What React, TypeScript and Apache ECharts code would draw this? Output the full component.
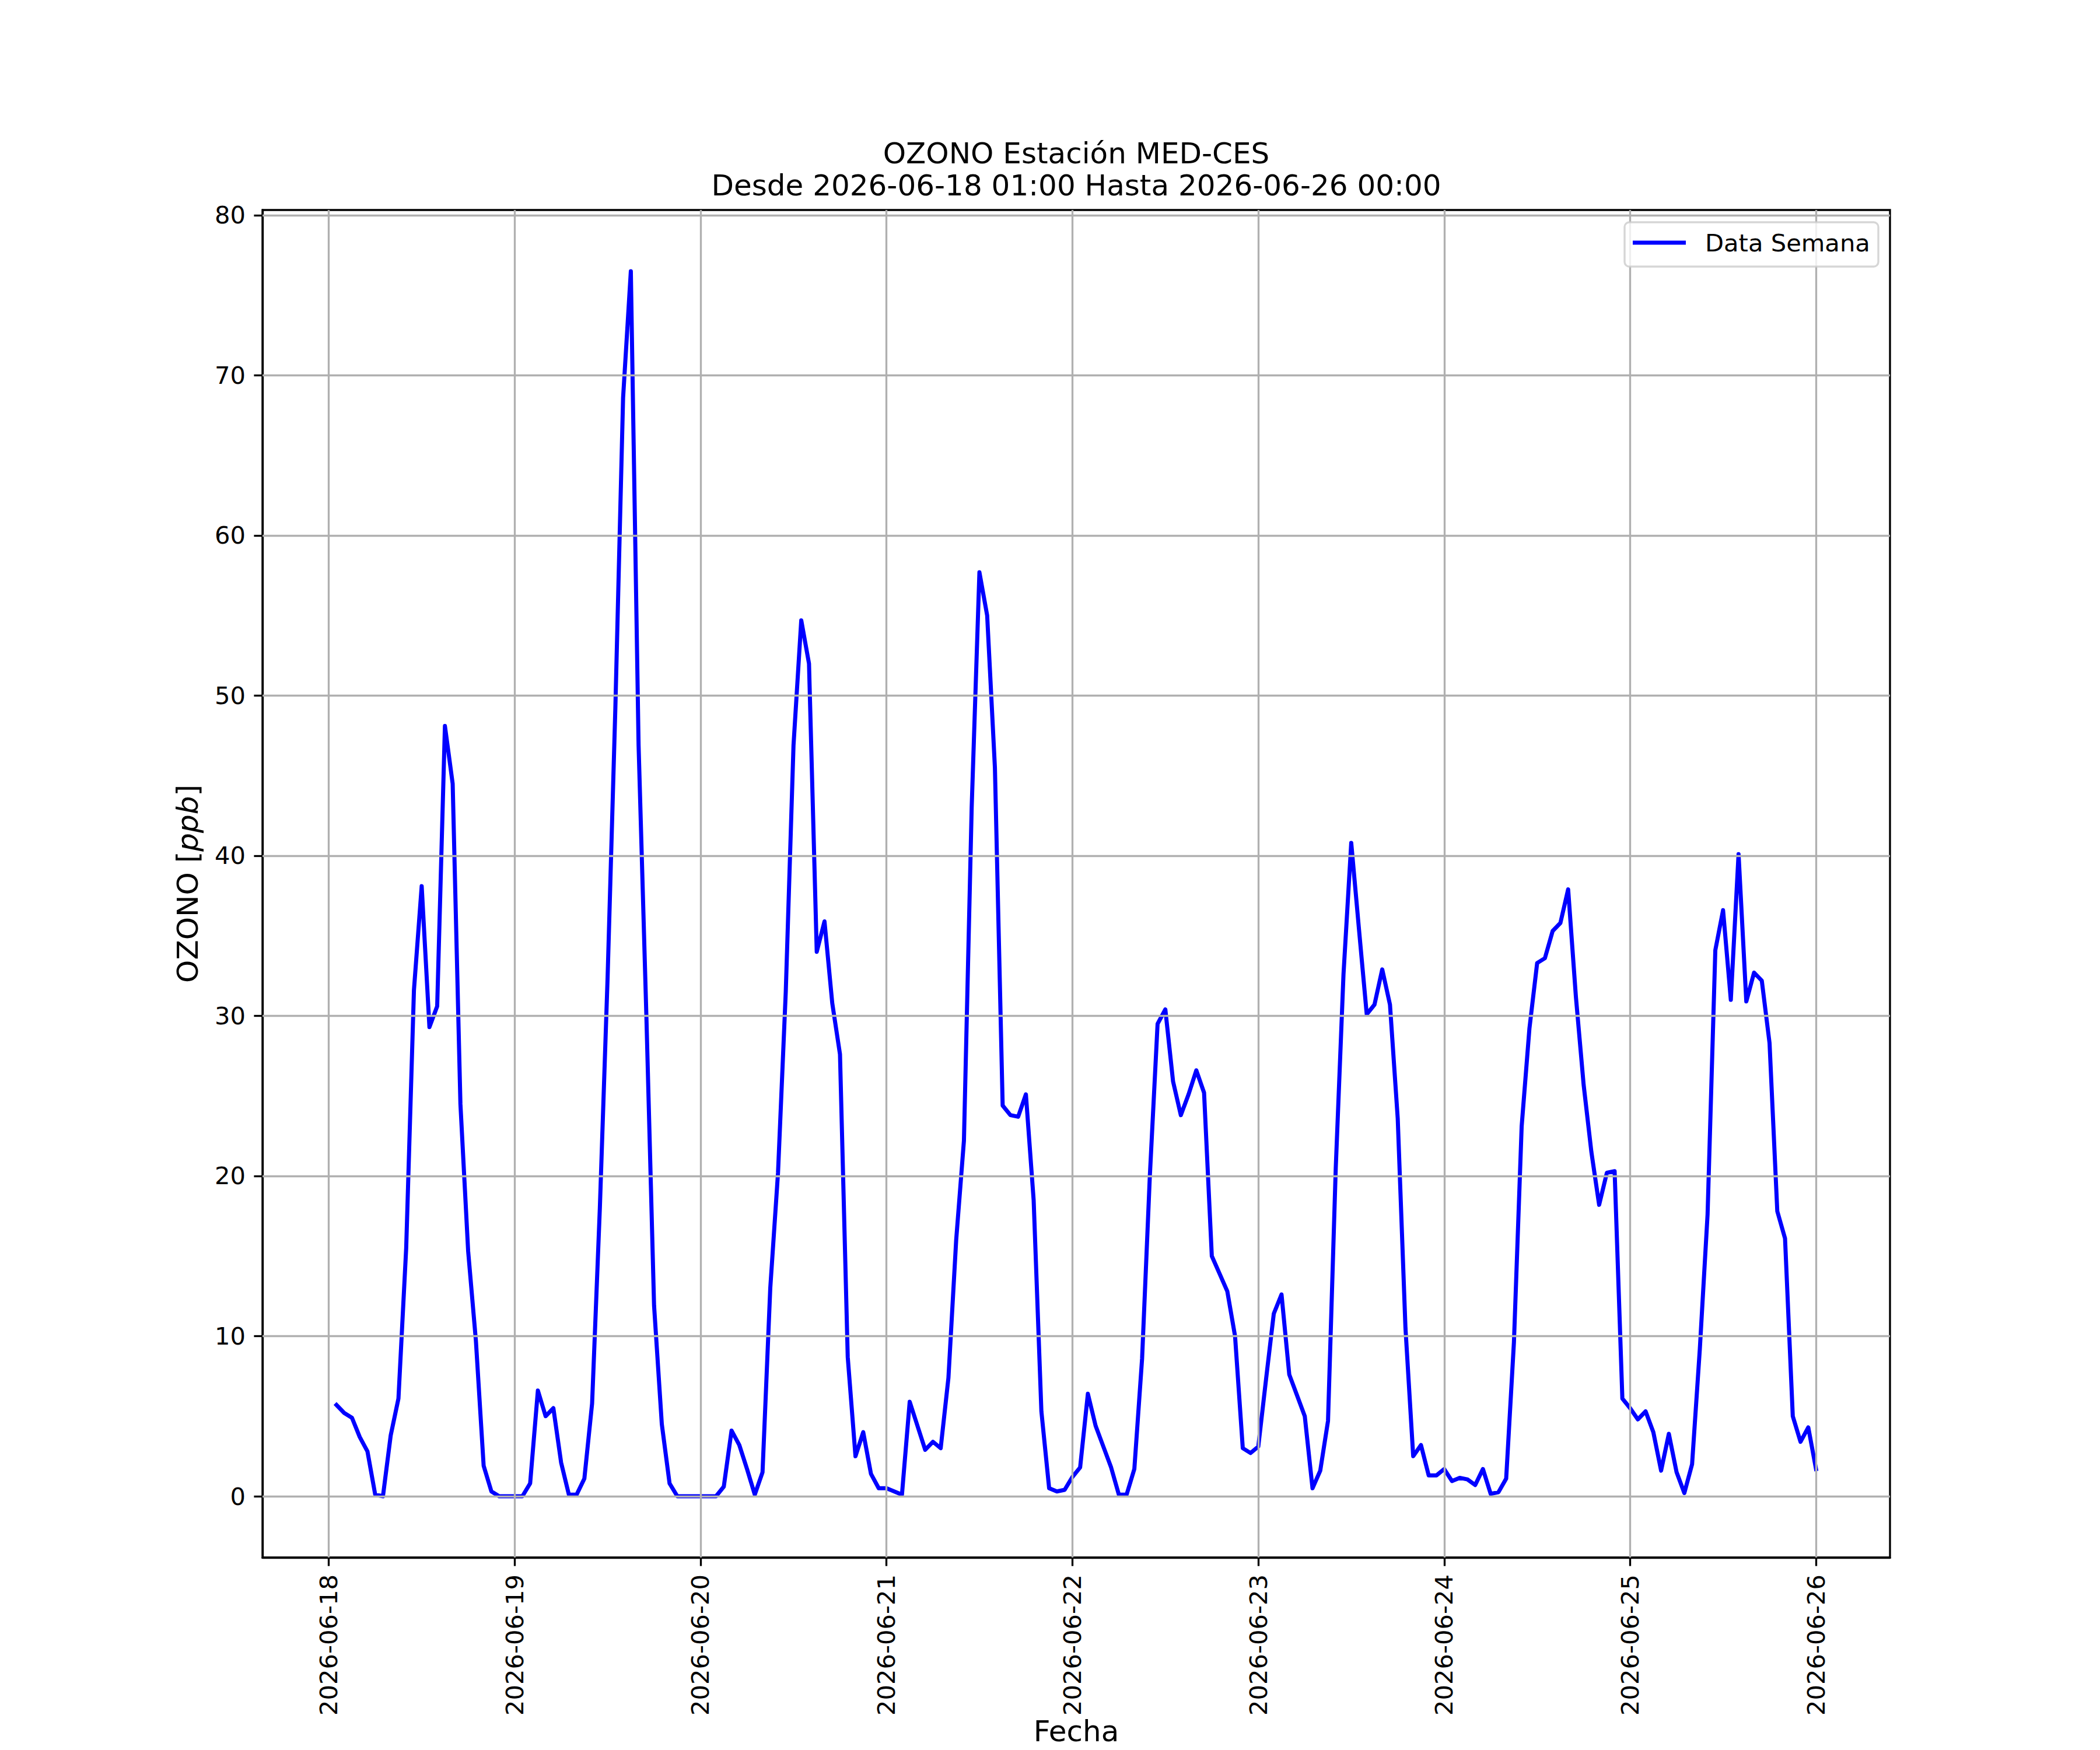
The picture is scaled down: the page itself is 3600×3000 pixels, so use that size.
import React, { useEffect, useRef } from "react";
import * as echarts from "echarts";

// Hourly OZONO values (ppb), one array per day, hours 01:00 .. 24:00 (= next day 00:00)
const day18 = [5.7, 5.2, 4.9, 3.7, 2.8, 0.1, 0.0, 3.8, 6.1, 15.5, 31.6, 38.1, 29.3, 30.6, 48.1, 44.5, 24.5, 15.3, 9.7, 1.9, 0.3, 0.0, 0.0, 0.0];
const day19 = [0.0, 0.8, 6.6, 5.0, 5.5, 2.1, 0.1, 0.1, 1.1, 5.8, 18.0, 32.4, 49.2, 68.6, 76.5, 46.9, 30.1, 11.9, 4.5, 0.8, 0.0, 0.0, 0.0, 0.0];
const day20 = [0.0, 0.0, 0.6, 4.1, 3.2, 1.7, 0.1, 1.5, 13.0, 20.2, 31.5, 46.9, 54.7, 52.0, 34.0, 35.9, 30.8, 27.6, 8.7, 2.5, 4.0, 1.4, 0.5, 0.5];
const day21 = [0.3, 0.1, 5.9, 4.4, 2.9, 3.4, 3.0, 7.4, 16.0, 22.2, 43.0, 57.7, 55.0, 45.5, 24.4, 23.8, 23.7, 25.1, 18.5, 5.3, 0.5, 0.3, 0.4, 1.2];
const day22 = [1.8, 6.4, 4.4, 3.1, 1.8, 0.1, 0.1, 1.7, 8.6, 20.0, 29.5, 30.4, 25.9, 23.8, 25.1, 26.6, 25.2, 15.0, 13.9, 12.8, 10.0, 3.0, 2.7, 3.1];
const day23 = [7.3, 11.4, 12.6, 7.6, 6.3, 5.0, 0.5, 1.6, 4.7, 20.5, 32.6, 40.8, 35.4, 30.1, 30.7, 32.9, 30.7, 23.6, 10.5, 2.5, 3.2, 1.3, 1.3, 1.7];
const day24 = [0.95, 1.15, 1.05, 0.7, 1.7, 0.15, 0.25, 1.1, 9.6, 23.1, 29.2, 33.3, 33.6, 35.3, 35.8, 37.9, 31.2, 25.7, 21.5, 18.2, 20.2, 20.3, 6.1, 5.5];
const day25 = [4.8, 5.3, 4.0, 1.6, 3.9, 1.5, 0.2, 2.0, 9.2, 17.6, 34.1, 36.6, 31.0, 40.1, 30.9, 32.7, 32.2, 28.3, 17.8, 16.1, 5.0, 3.4, 4.3, 1.7];

const days = [day18, day19, day20, day21, day22, day23, day24, day25];

// Tick labels
const dayLabels = ["2026-06-18", "2026-06-19", "2026-06-20", "2026-06-21", "2026-06-22", "2026-06-23", "2026-06-24", "2026-06-25", "2026-06-26"];
const xTicks = [0, 24, 48, 72, 96, 120, 144, 168, 192]; // hours since 2026-06-18 00:00
const yTicks = [0, 10, 20, 30, 40, 50, 60, 70, 80];

const titleLine1 = "OZONO Estación MED-CES";
const titleLine2 = "Desde 2026-06-18 01:00 Hasta 2026-06-26 00:00";
const legendName = "Data Semana";

const FONT = "DejaVu Sans";

export default function App() {
  const ref = useRef<HTMLDivElement>(null);

  useEffect(() => {
    document.body.style.margin = "0";
    if (!ref.current) return;
    const chart = echarts.init(ref.current, null, { renderer: "svg", width: 3600, height: 3000 });

    const seriesData: [number, number][] = [];
    days.forEach((arr, d) => {
      arr.forEach((v, h) => {
        seriesData.push([d * 24 + h + 1, v]);
      });
    });
    const xs = seriesData.map((p) => p[0]);
    const ys = seriesData.map((p) => p[1]);
    const xMinD = Math.min(...xs), xMaxD = Math.max(...xs);
    const yMinD = Math.min(...ys), yMaxD = Math.max(...ys);
    const xMin = xMinD - 0.05 * (xMaxD - xMinD);
    const xMax = xMaxD + 0.05 * (xMaxD - xMinD);
    const yMin = yMinD - 0.05 * (yMaxD - yMinD);
    const yMax = yMaxD + 0.05 * (yMaxD - yMinD);

    const lw = 3.33;
    const fs = 41.67;
    const fsLabel = 50;
    const dataLw = 7;

    const option: any = {
      animation: false,
      backgroundColor: "#ffffff",
      grid: {
        left: 450,
        right: 360,
        top: 360,
        bottom: 330,
        show: true,
        borderColor: "#000000",
        borderWidth: lw,
        backgroundColor: "transparent",
        containLabel: false,
      },
      xAxis: {
        type: "value",
        min: xMin,
        max: xMax,
        axisLine: { show: true, onZero: false, lineStyle: { color: "#000000", width: lw } },
        axisTick: { show: true, customValues: xTicks, length: 14.6, inside: false, lineStyle: { color: "#000000", width: lw } },
        axisLabel: {
          show: true,
          customValues: xTicks,
          rotate: 90,
          margin: 29,
          fontSize: fs,
          fontFamily: FONT,
          color: "#000000",
          formatter: (v: number) => dayLabels[Math.round(v / 24)] ?? "",
        },
        splitLine: { show: false },
      },
      yAxis: {
        type: "value",
        min: yMin,
        max: yMax,
        axisLine: { show: true, onZero: false, lineStyle: { color: "#000000", width: lw } },
        axisTick: { show: true, customValues: yTicks, length: 14.6, inside: false, lineStyle: { color: "#000000", width: lw } },
        axisLabel: {
          show: true,
          customValues: yTicks,
          margin: 29,
          fontSize: fs,
          fontFamily: FONT,
          color: "#000000",
          formatter: (v: number) => String(Math.round(v)),
        },
        splitLine: { show: false },
      },
      series: [
        {
          type: "line",
          name: "grid",
          data: [],
          silent: true,
          z: 1,
          markLine: {
            silent: true,
            animation: false,
            symbol: ["none", "none"],
            label: { show: false },
            emphasis: { disabled: true },
            lineStyle: { color: "#b0b0b0", width: lw, type: "solid" },
            data: [
              ...xTicks.map((v) => ({ xAxis: v })),
              ...yTicks.map((v) => ({ yAxis: v })),
            ],
          },
        },
        {
          type: "line",
          name: legendName,
          data: seriesData,
          showSymbol: false,
          symbol: "none",
          z: 3,
          lineStyle: { color: "#0000ff", width: dataLw, join: "round", cap: "square" },
          itemStyle: { color: "#0000ff" },
          emphasis: { disabled: true },
        },
      ],
      graphic: [
        {
          type: "text",
          z: 100,
          x: 1845,
          y: 263,
          style: { text: titleLine1, fontSize: 50, fontFamily: FONT, fill: "#000000", align: "center", verticalAlign: "middle" },
        },
        {
          type: "text",
          z: 100,
          x: 1845,
          y: 318,
          style: { text: titleLine2, fontSize: 50, fontFamily: FONT, fill: "#000000", align: "center", verticalAlign: "middle" },
        },
        {
          type: "text",
          z: 100,
          x: 322,
          y: 1515,
          rotation: Math.PI / 2,
          style: {
            text: "OZONO [{i|ppb}]",
            fontSize: fsLabel,
            fontFamily: FONT,
            fill: "#000000",
            align: "center",
            verticalAlign: "middle",
            rich: { i: { fontStyle: "italic", fontSize: fsLabel, fontFamily: FONT, fill: "#000000" } },
          },
        },
        {
          type: "text",
          z: 100,
          x: 1845,
          y: 2968,
          style: { text: "Fecha", fontSize: fsLabel, fontFamily: FONT, fill: "#000000", align: "center", verticalAlign: "middle" },
        },
        {
          type: "rect",
          z: 100,
          shape: { x: 2785, y: 381, width: 435, height: 76, r: 8 },
          style: { fill: "rgba(255,255,255,0.8)", stroke: "rgba(204,204,204,0.8)", lineWidth: lw },
        },
        {
          type: "line",
          z: 101,
          shape: { x1: 2799, y1: 416, x2: 2890, y2: 416 },
          style: { stroke: "#0000ff", lineWidth: dataLw },
        },
        {
          type: "text",
          z: 101,
          x: 2923,
          y: 416,
          style: { text: legendName, fontSize: fs, fontFamily: FONT, fill: "#000000", align: "left", verticalAlign: "middle" },
        },
      ],
    };

    chart.setOption(option);
    return () => {
      chart.dispose();
    };
  }, []);

  return <div ref={ref} style={{ width: 3600, height: 3000 }} />;
}
